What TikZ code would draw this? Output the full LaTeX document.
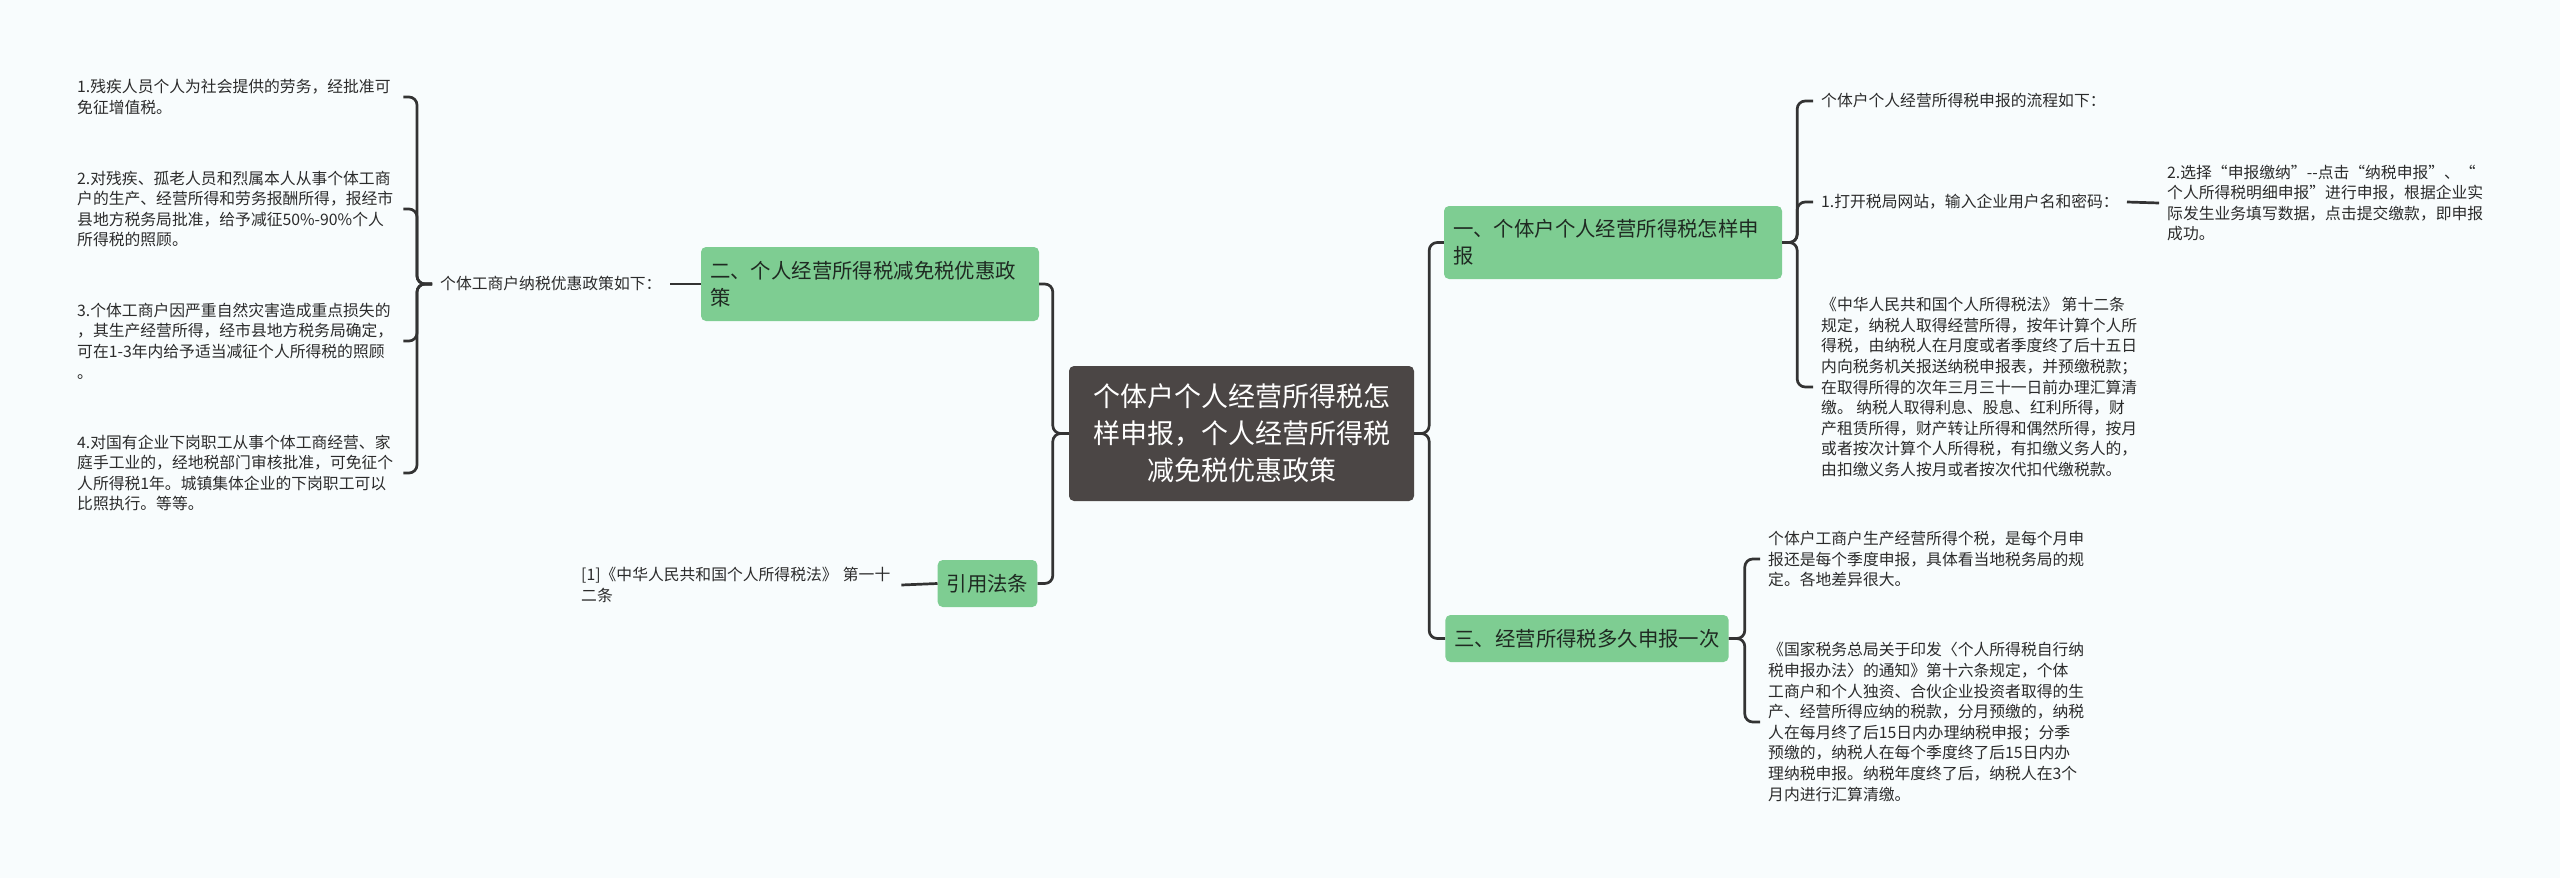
\documentclass[tikz,border=0pt]{standalone}
\usepackage{fontspec}
\setmainfont{Noto Sans CJK SC}
\definecolor{paper}{HTML}{F8FCFD}
\definecolor{leaf}{HTML}{7ECD92}
\definecolor{leafink}{HTML}{1F2A22}
\definecolor{rootfill}{HTML}{4B4645}
\definecolor{ink}{HTML}{2B2B2B}
\definecolor{wire}{HTML}{333333}

\begin{document}
\begin{tikzpicture}[x=1pt, y=-1pt,
  link/.style={draw=wire, line width=2.7pt, rounded corners=8pt},
  rootbox/.style={rectangle, rounded corners=5pt, fill=rootfill, text=white, align=center,
    minimum width=345pt, minimum height=135pt, font=\fontsize{27pt}{37pt}\selectfont},
  topic/.style={rectangle, rounded corners=5pt, fill=leaf, text=leafink, inner xsep=9pt,
    inner ysep=0pt, align=left, font=\fontsize{20.4pt}{27pt}\selectfont},
  note/.style={anchor=west, inner xsep=8pt, inner ysep=2pt, text=ink, align=left,
    font=\fontsize{15.8pt}{20.6pt}\selectfont},
]
  % background, fixes the page size
  \fill[paper] (0,0) rectangle (2560,878);

  % central topic
  \node[rootbox] (root) at (1241.5,433.5) {个体户个人经营所得税怎\\样申报，个人经营所得税\\减免税优惠政策};

  % main branches
  \node[topic, text width=320pt, minimum height=73pt] (tax1) at (1613,242.5) {一、个体户个人经营所得税怎样申\\报};
  \node[topic, text width=320pt, minimum height=74pt] (relief) at (870,284) {二、个人经营所得税减免税优惠政\\策};
  \node[topic, minimum height=47pt] (tax3) at (1587,638.5) {三、经营所得税多久申报一次};
  \node[topic, minimum height=47pt] (law) at (987.5,583.5) {引用法条};

  % left side: relief policy
  \node[note] (policy) at (432,284) {个体工商户纳税优惠政策如下：};
  \node[note, text width=318pt] (kid1) at (69,97) {1.残疾人员个人为社会提供的劳务，经批准可\\免征增值税。};
  \node[note, text width=318pt] (kid2) at (69,209) {2.对残疾、孤老人员和烈属本人从事个体工商\\户的生产、经营所得和劳务报酬所得，报经市\\县地方税务局批准，给予减征50\%-90\%个人\\所得税的照顾。};
  \node[note, text width=318pt] (kid3) at (69,341) {3.个体工商户因严重自然灾害造成重点损失的\\，其生产经营所得，经市县地方税务局确定，\\可在1-3年内给予适当减征个人所得税的照顾\\。};
  \node[note, text width=318pt] (kid4) at (69,473) {4.对国有企业下岗职工从事个体工商经营、家\\庭手工业的，经地税部门审核批准，可免征个\\人所得税1年。城镇集体企业的下岗职工可以\\比照执行。等等。};
  \node[note, text width=312pt] (cite) at (573,585) {[1]《中华人民共和国个人所得税法》 第一十\\二条};

  % right side: filing steps
  \node[note] (step0) at (1813,101) {个体户个人经营所得税申报的流程如下：};
  \node[note] (step1) at (1813,202) {1.打开税局网站，输入企业用户名和密码：};
  \node[note] (step2) at (2159,203) {2.选择“申报缴纳”-{}-点击“纳税申报”、“\\个人所得税明细申报”进行申报，根据企业实\\际发生业务填写数据，点击提交缴款，即申报\\成功。};
  \node[note] (law12) at (1813,387) {《中华人民共和国个人所得税法》 第十二条\\规定，纳税人取得经营所得，按年计算个人所\\得税，由纳税人在月度或者季度终了后十五日\\内向税务机关报送纳税申报表，并预缴税款；\\在取得所得的次年三月三十一日前办理汇算清\\缴。 纳税人取得利息、股息、红利所得，财\\产租赁所得，财产转让所得和偶然所得，按月\\或者按次计算个人所得税，有扣缴义务人的，\\由扣缴义务人按月或者按次代扣代缴税款。};

  % right side: filing frequency
  \node[note] (freq) at (1760,559) {个体户工商户生产经营所得个税，是每个月申\\报还是每个季度申报，具体看当地税务局的规\\定。各地差异很大。};
  \node[note] (notice) at (1760,722) {《国家税务总局关于印发〈个人所得税自行纳\\税申报办法〉的通知》第十六条规定，个体\\工商户和个人独资、合伙企业投资者取得的生\\产、经营所得应纳的税款，分月预缴的，纳税\\人在每月终了后15日内办理纳税申报；分季\\预缴的，纳税人在每个季度终了后15日内办\\理纳税申报。纳税年度终了后，纳税人在3个\\月内进行汇算清缴。};

  % connectors
  \draw[link] (root.west) -- ++(-16,0) |- (relief.east);
  \draw[link] (root.west) -- ++(-16,0) |- (law.east);
  \draw[link] (root.east) -- ++(15,0) |- (tax1.west);
  \draw[link] (root.east) -- ++(15,0) |- (tax3.west);
  \draw[link] (relief.west) -- (policy.east);
  \foreach \k in {kid1,kid2,kid3,kid4}
    \draw[link] (policy.west) -- ++(-15,0) |- (\k.east);
  \draw[link] (law.west) -- (cite.east);
  \foreach \s in {step0,step1,law12}
    \draw[link] (tax1.east) -- ++(15,0) |- (\s.west);
  \draw[link] (step1.east) -- (step2.west);
  \foreach \s in {freq,notice}
    \draw[link] (tax3.east) -- ++(16,0) |- (\s.west);
\end{tikzpicture}
\end{document}
